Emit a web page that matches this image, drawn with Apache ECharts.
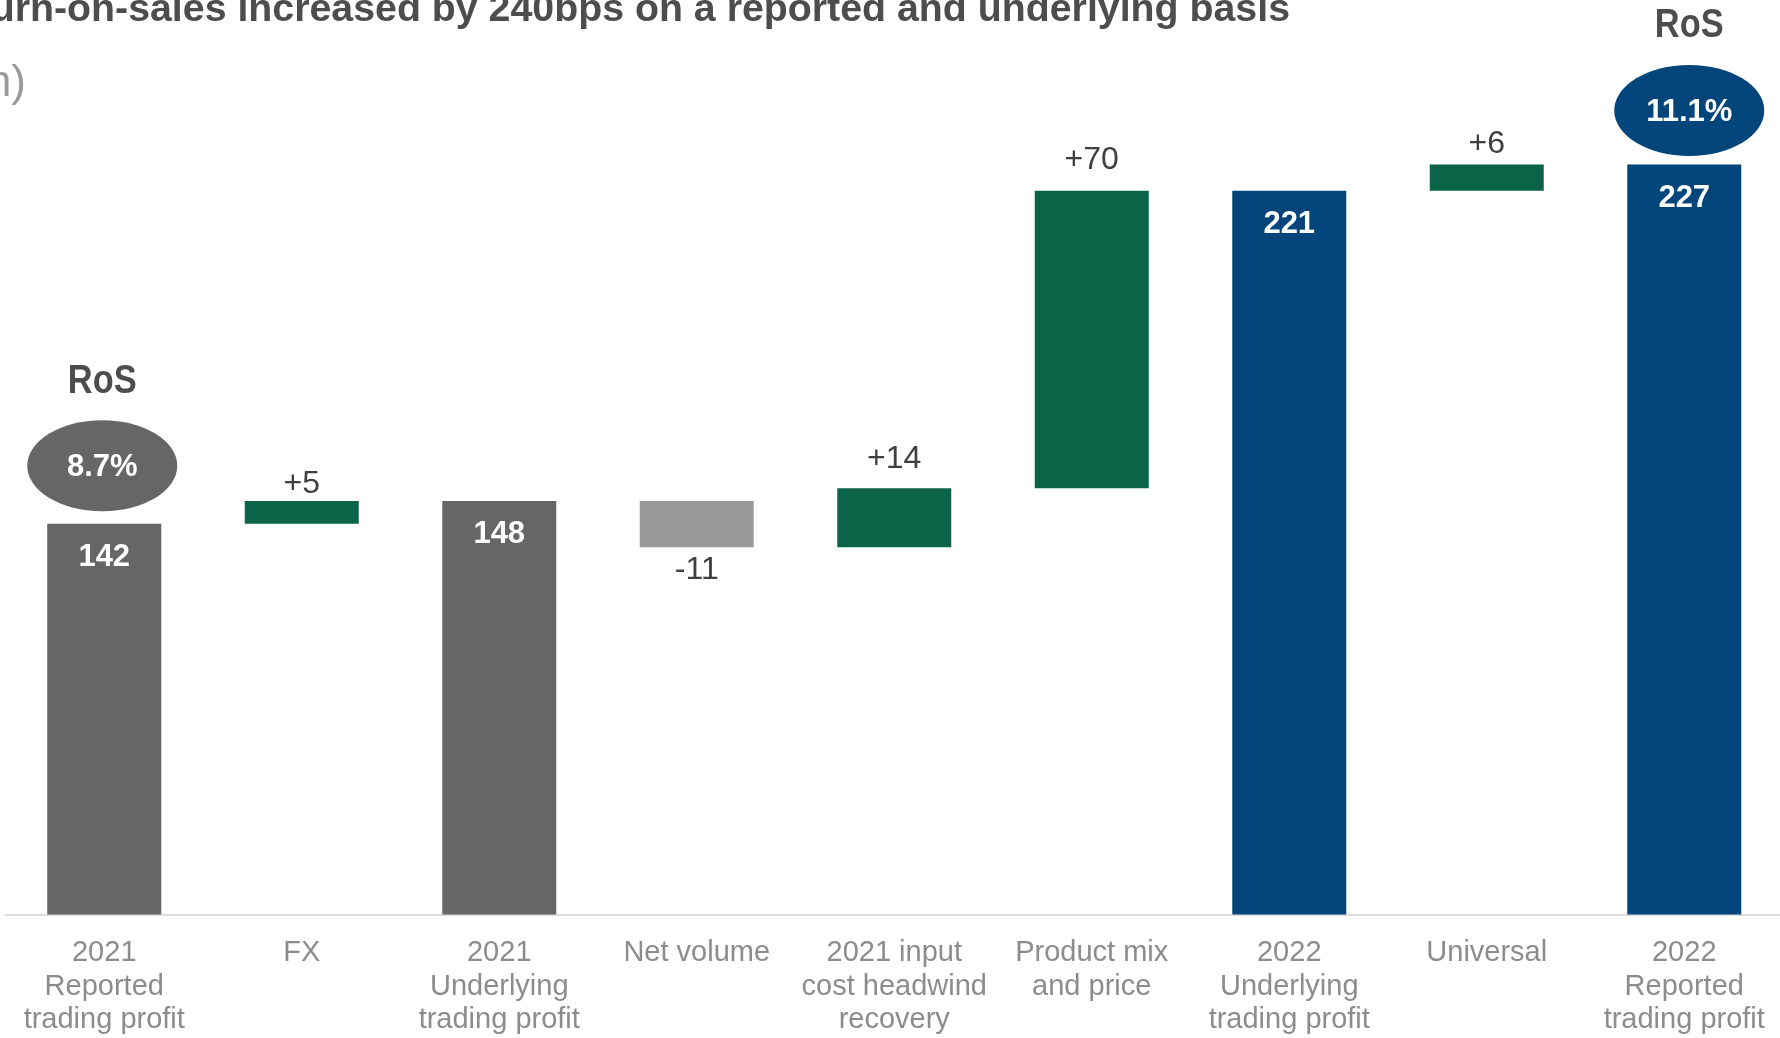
<!DOCTYPE html>
<html><head><meta charset="utf-8">
<script src="https://cdn.jsdelivr.net/npm/echarts@6/dist/echarts.min.js"></script>
<style>html,body{margin:0;padding:0;background:#fff;overflow:hidden}#c{width:1800px;height:1038px;}</style>
</head><body><div id="c"></div>
<script>
// ---- data (£m, estimated to one decimal from bar heights) ----
const categories = [
  '2021\nReported\ntrading profit',
  'FX',
  '2021\nUnderlying\ntrading profit',
  'Net volume',
  '2021 input\ncost headwind\nrecovery',
  'Product mix\nand price',
  '2022\nUnderlying\ntrading profit',
  'Universal',
  '2022\nReported\ntrading profit'
];
const totals = [142.2, null, 147.6, null, null, null, 220.8, null, 227.0];
const deltas = [null, 5.4, null, -10.9, 13.9, 70.2, null, 6.2, null];
const rosValues = ['8.7%', null, null, null, null, null, null, null, '11.1%'];
const titleText = 'Return-on-sales increased by 240bps on a reported and underlying basis';
const unitText = '(£m)';

// ---- styling ----
const FONT = "'Liberation Sans', Arial, Helvetica, sans-serif";
const GRAY = '#666666', LIGHT = '#999999', GREEN = '#0B6448', NAVY = '#02457A';
const deltaLabelGap = [0, 1, 0, 7, 13, 15, 0, 4, 0];
const BAR_W = 114;

const baseData = [], totalData = [], posData = [], negData = [];
let level = 0;
categories.forEach((c, i) => {
  if (totals[i] != null) {
    level = totals[i];
    baseData.push('-'); posData.push('-'); negData.push('-');
    totalData.push({ value: totals[i], itemStyle: { color: c.startsWith('2022') ? NAVY : GRAY } });
  } else {
    const d = deltas[i];
    baseData.push(Math.min(level, level + d));
    totalData.push('-');
    if (d >= 0) {
      posData.push({ value: d, label: { distance: deltaLabelGap[i] } });
      negData.push('-');
    } else {
      negData.push({ value: -d, label: { distance: deltaLabelGap[i] } });
      posData.push('-');
    }
    level += d;
  }
});

const chart = echarts.init(document.getElementById('c'), null, { renderer: 'canvas' });
const option = {
  animation: false,
  backgroundColor: '#ffffff',
  textStyle: { fontFamily: FONT },
  grid: { left: 5.5, top: 164.5, width: 1777.5, height: 750, containLabel: false },
  xAxis: {
    type: 'category', data: categories,
    axisLine: { lineStyle: { color: '#dcdcdc', width: 2 } },
    axisTick: { show: false },
    axisLabel: { interval: 0, color: '#8c8c8c', fontSize: 29, lineHeight: 33.5, margin: 22, fontFamily: FONT }
  },
  yAxis: { type: 'value', min: 50, max: 227, show: false, splitLine: { show: false } },
  series: [
    { name: 'base', type: 'bar', stack: 'w', barWidth: BAR_W, data: baseData,
      itemStyle: { color: 'transparent' }, silent: true },
    { name: 'total', type: 'bar', stack: 'w', barWidth: BAR_W, data: totalData,
      label: { show: true, position: 'insideTop', distance: 18, color: '#ffffff',
               fontSize: 31, fontWeight: 'bold', fontFamily: FONT,
               formatter: p => String(Math.round(p.value)) } },
    { name: 'increase', type: 'bar', stack: 'w', barWidth: BAR_W, data: posData,
      itemStyle: { color: GREEN },
      label: { show: true, position: 'top', color: '#404040', fontSize: 32, fontFamily: FONT,
               formatter: p => '+' + Math.round(p.value) } },
    { name: 'decrease', type: 'bar', stack: 'w', barWidth: BAR_W, data: negData,
      itemStyle: { color: LIGHT },
      label: { show: true, position: 'bottom', color: '#404040', fontSize: 32, fontFamily: FONT,
               formatter: p => '-' + Math.round(p.value) } }
  ]
};
chart.setOption(option);

// ---- annotations placed through the chart's own scales ----
const graphics = [
  { type: 'text', x: 1290, y: 10, style: { text: titleText, align: 'right', verticalAlign: 'middle',
      font: 'bold 39.3px ' + FONT, fill: '#4d4d4d' } },
  { type: 'text', x: 26, y: 84, style: { text: unitText, align: 'right', verticalAlign: 'middle',
      font: '44px ' + FONT, fill: '#9a9a9a' } }
];
const rosOffsets = { 0: { dx: -2, dy: -58, tdy: -142 }, 8: { dx: 5, dy: -54, tdy: -139 } };
rosValues.forEach((v, i) => {
  if (v == null) return;
  const p = chart.convertToPixel({ gridIndex: 0 }, [i, totals[i]]);
  const o = rosOffsets[i];
  const col = categories[i].startsWith('2022') ? NAVY : GRAY;
  graphics.push({ type: 'ellipse', shape: { cx: p[0] + o.dx, cy: p[1] + o.dy, rx: 75, ry: 45.5 },
    style: { fill: col } });
  graphics.push({ type: 'text', x: p[0] + o.dx, y: p[1] + o.dy + 2,
    style: { text: v, align: 'center', verticalAlign: 'middle', font: 'bold 31px ' + FONT, fill: '#ffffff' } });
  graphics.push({ type: 'text', x: p[0] + o.dx, y: p[1] + o.tdy, scaleX: 0.86,
    style: { text: 'RoS', align: 'center', verticalAlign: 'middle', font: 'bold 40px ' + FONT, fill: '#4d4d4d' } });
});
chart.setOption({ graphic: graphics });
</script></body></html>
